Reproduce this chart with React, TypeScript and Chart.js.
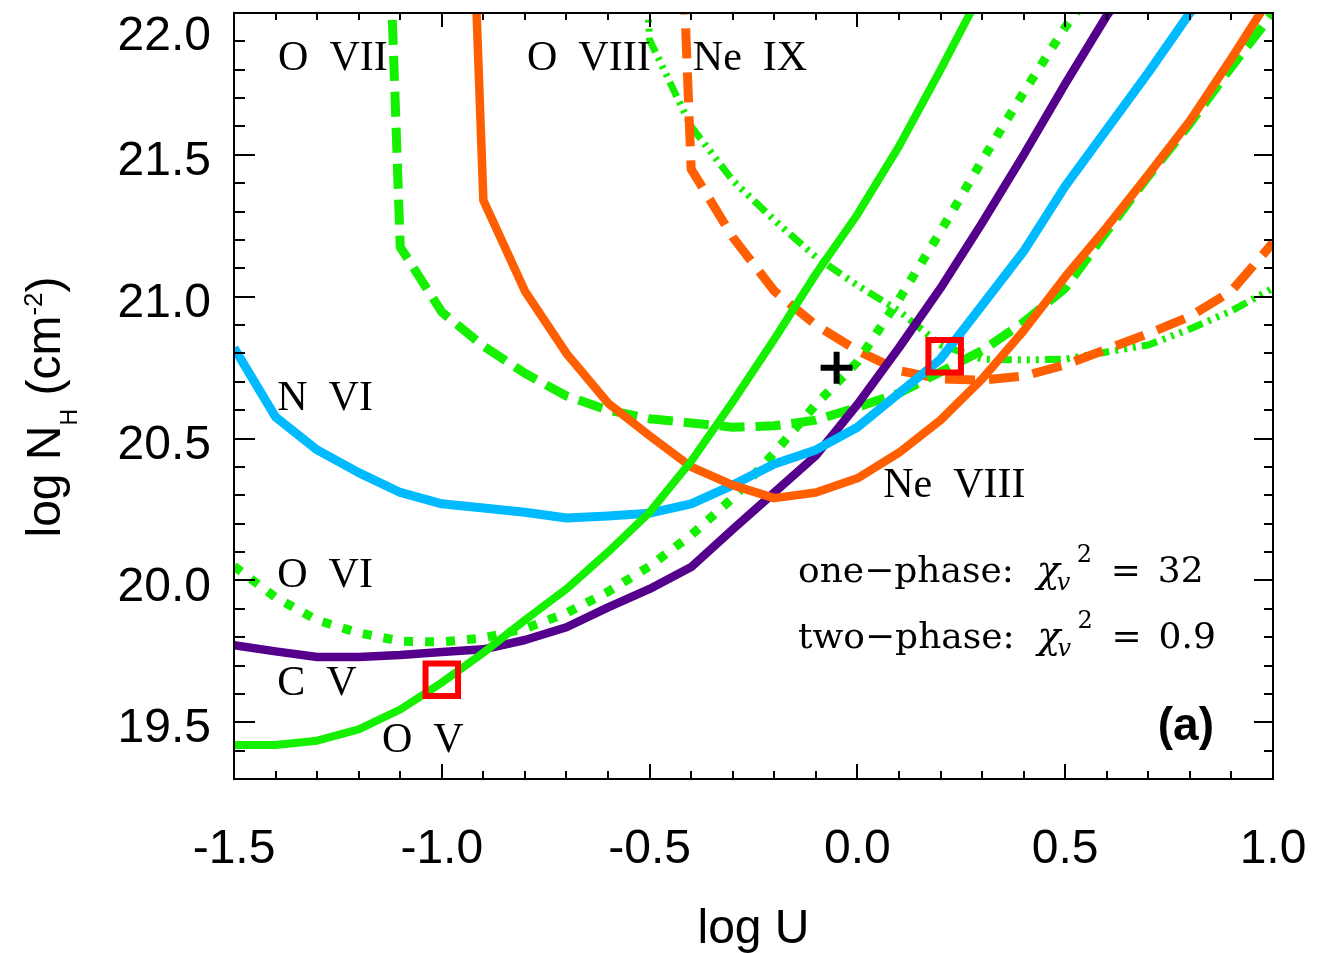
import React, { useEffect, useRef } from "react";
import { Chart, registerables } from "chart.js";

Chart.register(...registerables);

// log U grid of the photoionization models
const logU = [-1.5, -1.4, -1.3, -1.2, -1.1, -1.0, -0.9, -0.8, -0.7, -0.6, -0.5, -0.4, -0.3, -0.2, -0.1, 0.0, 0.1, 0.2, 0.3, 0.4, 0.5, 0.6, 0.7, 0.8, 0.9, 1.0];

// log N_H curves (null = outside the plotted range)
const ovVals = [19.42, 19.42, 19.435, 19.475, 19.545, 19.64, 19.745, 19.86, 19.97, 20.1, 20.24, 20.42, 20.63, 20.85, 21.08, 21.29, 21.53, 21.8, 22.08, null, null, null, null, null, null, null];
const cvVals = [19.772, 19.75, 19.73, 19.73, 19.737, 19.748, 19.757, 19.79, 19.835, 19.905, 19.97, 20.047, 20.18, 20.31, 20.44, 20.62, 20.82, 21.03, 21.26, 21.5, 21.75, 21.99, 22.2, null, null, null];
const nviVals = [20.82, 20.576, 20.46, 20.38, 20.31, 20.27, 20.255, 20.24, 20.22, 20.227, 20.237, 20.27, 20.336, 20.41, 20.46, 20.54, 20.66, 20.78, 20.97, 21.16, 21.39, 21.59, 21.79, 22.0, 22.2, null];
const neviiiVals = [null, null, null, null, null, 25.4, 21.34, 21.02, 20.8, 20.625, 20.51, 20.4, 20.336, 20.29, 20.31, 20.36, 20.45, 20.565, 20.71, 20.88, 21.07, 21.245, 21.43, 21.62, 21.84, 22.07];
const neixVals = [null, null, null, null, null, null, null, null, null, null, 25.2, 21.45, 21.21, 21.02, 20.9, 20.81, 20.74, 20.71, 20.706, 20.72, 20.76, 20.815, 20.87, 20.93, 21.02, 21.19];
const oviVals = [20.05, 19.94, 19.86, 19.815, 19.786, 19.783, 19.797, 19.83, 19.885, 19.96, 20.05, 20.16, 20.29, 20.45, 20.62, 20.77, 20.99, 21.23, 21.48, 21.72, 21.95, 22.15, null, null, null, null];
const oviiVals = [null, null, null, 25.4, 21.175, 20.946, 20.826, 20.73, 20.65, 20.6, 20.57, 20.555, 20.54, 20.545, 20.565, 20.61, 20.66, 20.735, 20.81, 20.91, 21.03, 21.23, 21.425, 21.61, 21.81, 22.0];
const oviiiVals = [null, null, null, null, null, null, null, null, null, 24.5, 21.905, 21.6, 21.41, 21.27, 21.14, 21.04, 20.95, 20.83, 20.78, 20.777, 20.78, 20.805, 20.83, 20.886, 20.95, 21.03];

// best-fit solutions
const onePhaseX = [-0.05];
const onePhaseY = [20.75];
const twoPhaseX = [0.21, -1.0];
const twoPhaseY = [20.79, 19.65];

// axes
const xTickValues = [-1.5, -1.0, -0.5, 0.0, 0.5, 1.0];
const xTickLabels = ["-1.5", "-1.0", "-0.5", "0.0", "0.5", "1.0"];
const yTickValues = [19.5, 20.0, 20.5, 21.0, 21.5, 22.0];
const yTickLabels = ["19.5", "20.0", "20.5", "21.0", "21.5", "22.0"];

// ion labels
const ionLabels = ["O  VII", "O  VIII", "Ne  IX", "N  VI", "O  VI", "C  V", "O  V", "Ne  VIII"];
const ionLabelX = [-1.394, -0.795, -0.396, -1.396, -1.396, -1.396, -1.144, 0.062];
const ionLabelY = [21.8, 21.8, 21.8, 20.6, 19.977, 19.596, 19.395, 20.294];

// fit statistics
const fitNames = ["one\u2212phase:", "two\u2212phase:"];
const fitValues = ["32", "0.9"];
const fitX = -0.143;
const fitY = [19.994, 19.762];

const GREEN = "#14f000";
const ORANGE = "#ff5f00";
const BLUE = "#00baff";
const PURPLE = "#54008c";

function pts(vals: (number | null)[]) {
  const out: { x: number; y: number }[] = [];
  vals.forEach((v, i) => {
    if (v !== null) out.push({ x: logU[i], y: v });
  });
  return out;
}

const framePlugin = {
  id: "frameTicks",
  afterDatasetsDraw(chart: any) {
    const { ctx, chartArea: a, scales } = chart;
    const x = scales.x;
    const y = scales.y;
    ctx.save();
    ctx.strokeStyle = "#000";
    ctx.lineWidth = 2;
    ctx.lineCap = "butt";
    ctx.strokeRect(a.left, a.top, a.right - a.left, a.bottom - a.top);
    ctx.beginPath();
    for (let i = 0; i <= 25; i++) {
      const v = -1.5 + i * 0.1;
      const px = Math.round(x.getPixelForValue(v));
      const major = i % 5 === 0;
      ctx.moveTo(px, a.bottom);
      ctx.lineTo(px, a.bottom - (major ? 15 : 8));
      ctx.moveTo(px, a.top);
      ctx.lineTo(px, a.top + (major ? 14 : 7));
    }
    for (let j = 0; j <= 27; j++) {
      const v = 19.3 + j * 0.1;
      const py = Math.round(y.getPixelForValue(v));
      const major = (j - 2) % 5 === 0;
      ctx.moveTo(a.left, py);
      ctx.lineTo(a.left + (major ? 21 : 11), py);
      ctx.moveTo(a.right, py);
      ctx.lineTo(a.right - (major ? 19 : 9), py);
    }
    ctx.stroke();
    ctx.restore();
  },
  afterDraw(chart: any) {
    const { ctx, chartArea: a, scales } = chart;
    const x = scales.x;
    const y = scales.y;
    ctx.save();
    ctx.fillStyle = "#000";
    // y tick labels
    ctx.font = "48px 'Liberation Sans', Arial, sans-serif";
    ctx.textAlign = "right";
    ctx.textBaseline = "middle";
    yTickValues.forEach((v, i) => {
      const py = Math.max(y.getPixelForValue(v) + 7, a.top + 24);
      ctx.fillText(yTickLabels[i], a.left - 23, py);
    });
    // x tick labels
    ctx.textAlign = "center";
    xTickValues.forEach((v, i) => {
      ctx.fillText(xTickLabels[i], x.getPixelForValue(v), a.bottom + 71);
    });
    // x title
    ctx.textBaseline = "alphabetic";
    ctx.fillText("log U", (a.left + a.right) / 2, a.bottom + 164);
    // y title
    ctx.save();
    ctx.translate(60, (a.top + a.bottom) / 2 + 11);
    ctx.rotate(-Math.PI / 2);
    ctx.textAlign = "left";
    const parts = [
      { t: "log N", f: "48px 'Liberation Sans', Arial, sans-serif", dy: 0 },
      { t: "H", f: "23px 'Liberation Sans', Arial, sans-serif", dy: 17 },
      { t: " (cm", f: "48px 'Liberation Sans', Arial, sans-serif", dy: 0 },
      { t: "-2", f: "26px 'Liberation Sans', Arial, sans-serif", dy: -18 },
      { t: ")", f: "48px 'Liberation Sans', Arial, sans-serif", dy: 0 },
    ];
    let total = 0;
    parts.forEach((p) => {
      ctx.font = p.f;
      total += ctx.measureText(p.t).width;
    });
    let cx = -total / 2;
    parts.forEach((p) => {
      ctx.font = p.f;
      ctx.fillText(p.t, cx, p.dy);
      cx += ctx.measureText(p.t).width;
    });
    ctx.restore();

    // ion labels
    ctx.font = "42px 'Liberation Serif', 'Times New Roman', serif";
    ctx.textAlign = "left";
    ctx.textBaseline = "alphabetic";
    ionLabels.forEach((t, i) => {
      ctx.fillText(t, x.getPixelForValue(ionLabelX[i]), y.getPixelForValue(ionLabelY[i]));
    });

    // fit statistics
    const mainF = "36px 'DejaVu Serif', serif";
    const italF = "italic 38px 'DejaVu Serif', serif";
    const smallItal = "italic 24px 'DejaVu Serif', serif";
    const smallF = "24px 'DejaVu Serif', serif";
    fitNames.forEach((t, i) => {
      const px = x.getPixelForValue(fitX);
      const py = y.getPixelForValue(fitY[i]);
      ctx.font = mainF;
      ctx.fillText(t, px, py);
      const chiX = px + ctx.measureText(t + "  ").width;
      ctx.font = italF;
      ctx.fillText("\u03c7", chiX, py);
      const chiEnd = chiX + ctx.measureText("\u03c7").width;
      ctx.font = smallItal;
      ctx.fillText("v", chiEnd - 3, py + 8);
      ctx.font = smallF;
      ctx.fillText("2", chiEnd + 17, py - 20);
      ctx.font = mainF;
      ctx.fillText("=", chiEnd + 51, py);
      ctx.fillText(fitValues[i], chiEnd + 98, py);
    });

    // panel label
    ctx.font = "bold 46px 'Liberation Sans', Arial, sans-serif";
    ctx.textAlign = "right";
    ctx.fillText("(a)", x.getPixelForValue(0.858), y.getPixelForValue(19.437));
    ctx.restore();
  },
};

export default function App() {
  const ref = useRef<HTMLCanvasElement | null>(null);
  useEffect(() => {
    if (!ref.current) return;
    const line = (vals: (number | null)[], color: string, width: number, dash: number[]) => ({
      type: "line" as const,
      data: pts(vals),
      showLine: true,
      borderColor: color,
      backgroundColor: color,
      borderWidth: width,
      borderDash: dash,
      borderCapStyle: "butt" as const,
      borderJoinStyle: "round" as const,
      pointRadius: 0,
      tension: 0,
      fill: false,
    });
    const chart = new Chart(ref.current, {
      type: "scatter",
      data: {
        datasets: [
          {
            data: onePhaseX.map((v, i) => ({ x: v, y: onePhaseY[i] })),
            pointStyle: "cross",
            pointRadius: 16,
            borderWidth: 6,
            borderColor: "#000",
            backgroundColor: "#000",
          } as any,
          {
            data: twoPhaseX.map((v, i) => ({ x: v, y: twoPhaseY[i] })),
            pointStyle: "rect",
            pointRadius: 23,
            borderWidth: 6,
            borderColor: "#ff0000",
            backgroundColor: "rgba(0,0,0,0)",
          } as any,
          line(ovVals, GREEN, 8, []),
          line(neviiiVals, ORANGE, 8.5, []),
          line(nviVals, BLUE, 9, []),
          line(cvVals, PURPLE, 8.5, []),
          line(oviVals, GREEN, 9, [9, 12]),
          line(oviiVals, GREEN, 9, [25, 11]),
          line(neixVals, ORANGE, 9, [30, 14]),
          line(oviiiVals, GREEN, 7, [16, 6, 3, 6, 3, 6, 3, 6]),
        ] as any,
      },
      options: {
        animation: false,
        responsive: false,
        devicePixelRatio: 1,
        events: [],
        layout: { autoPadding: false, padding: { left: 234, right: 46, top: 13, bottom: 174 } },
        scales: {
          x: { type: "linear", min: -1.5, max: 1.0, display: false },
          y: { type: "linear", min: 19.3, max: 22.0, display: false },
        },
        plugins: { legend: { display: false }, tooltip: { enabled: false } },
      },
      plugins: [framePlugin],
    });
    return () => chart.destroy();
  }, []);
  return (
    <div style={{ position: "absolute", left: 0, top: 0, width: 1319, height: 953, background: "#fff" }}>
      <canvas ref={ref} width={1319} height={953} style={{ display: "block" }} />
    </div>
  );
}
